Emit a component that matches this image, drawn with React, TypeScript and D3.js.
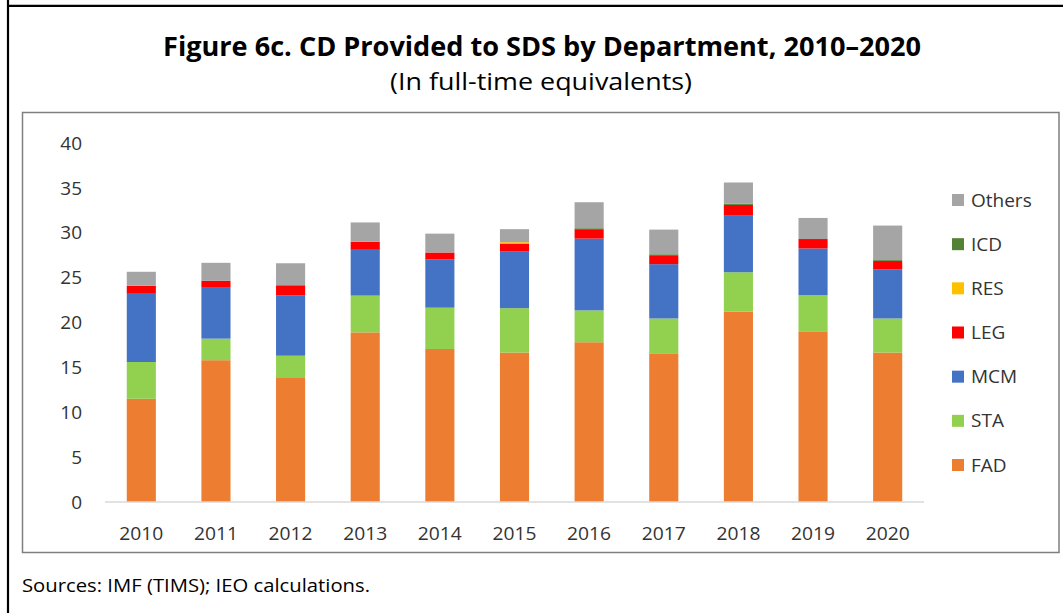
import React from "react";
import * as d3 from "d3";

const years = ["2010", "2011", "2012", "2013", "2014", "2015", "2016", "2017", "2018", "2019", "2020"];
const FAD = [11.5, 15.8, 13.9, 18.9, 17.05, 16.65, 17.8, 16.5, 21.2, 18.95, 16.65];
const STA = [4.1, 2.4, 2.4, 4.1, 4.6, 4.95, 3.55, 3.95, 4.4, 4.1, 3.8];
const MCM = [7.6, 5.75, 6.7, 5.1, 5.4, 6.35, 8.0, 6.05, 6.3, 5.2, 5.45];
const LEG = [0.9, 0.7, 1.15, 0.9, 0.75, 0.85, 1.05, 1.0, 1.2, 1.05, 0.95];
const RES = [0, 0, 0, 0, 0, 0.15, 0, 0, 0, 0, 0];
const ICD = [0, 0, 0, 0, 0, 0, 0.1, 0.1, 0.15, 0, 0.1];
const Others = [1.55, 2.0, 2.45, 2.15, 2.1, 1.45, 2.9, 2.75, 2.35, 2.35, 3.85];

const seriesNames = ["FAD", "STA", "MCM", "LEG", "RES", "ICD", "Others"];
const seriesValues = [FAD, STA, MCM, LEG, RES, ICD, Others];
const seriesColors = ["#ED7D31", "#92D050", "#4472C4", "#FF0000", "#FFC000", "#548235", "#A5A5A5"];
const yTicks = [0, 5, 10, 15, 20, 25, 30, 35, 40];

const title = "Figure 6c. CD Provided to SDS by Department, 2010\u20132020";
const subtitle = "(In full-time equivalents)";
const source = "Sources: IMF (TIMS); IEO calculations.";

export default function App() {
  const W = 1063, H = 613;
  const font = "'Open Sans', 'Noto Sans', sans-serif";
  const rows = years.map((y, i) => {
    const r: any = { year: y };
    seriesNames.forEach((s, k) => (r[s] = seriesValues[k][i]));
    return r;
  });
  const stacked = d3.stack().keys(seriesNames)(rows);
  const x = d3.scaleBand().domain(years).range([104, 925]).paddingInner(0.61).paddingOuter(0.305);
  const y = d3.scaleLinear().domain([0, 40]).range([502, 143]);
  const legendY = d3.scalePoint().domain([...seriesNames].reverse()).range([200, 465]);

  return (
    <svg width={W} height={H} style={{ position: "absolute", left: 0, top: 0, background: "#fff" }}>
      <rect x={0} y={0} width={W} height={H} fill="#fff" />
      <line x1={8} y1={0} x2={8} y2={H} stroke="#000" strokeWidth={2.2} />
      <line x1={7} y1={5.8} x2={W} y2={5.8} stroke="#000" strokeWidth={2.2} />
      <text x={542} y={56} textAnchor="middle" fontFamily={font} fontWeight={700} fontSize={26} fill="#000" textLength={758} lengthAdjust="spacingAndGlyphs">{title}</text>
      <text x={541} y={90} textAnchor="middle" fontFamily={font} fontSize={23} fill="#000" textLength={302} lengthAdjust="spacingAndGlyphs">{subtitle}</text>
      <rect x={22.5} y={112.5} width={1036.5} height={440} fill="none" stroke="#7F7F7F" strokeWidth={1.5} />
      {yTicks.map((t) => (
        <text key={t} x={82} y={y(t)} dy="0.35em" textAnchor="end" fontFamily={font} fontSize={19} fill="#333">{t}</text>
      ))}
      {stacked.map((layer, k) => (
        <g key={seriesNames[k]} fill={seriesColors[k]}>
          {layer.map((d: any, i: number) =>
            d[1] - d[0] > 0 ? (
              <rect key={i} x={x(years[i])} y={y(d[1])} width={x.bandwidth()} height={y(d[0]) - y(d[1])} />
            ) : null
          )}
        </g>
      ))}
      <line x1={105} x2={924} y1={502} y2={502} stroke="#D9D9D9" strokeWidth={1.5} />
      {years.map((yr) => (
        <text key={yr} x={(x(yr) as number) + x.bandwidth() / 2} y={533} dy="0.35em" textAnchor="middle" fontFamily={font} fontSize={19} fill="#333" textLength={44} lengthAdjust="spacingAndGlyphs">{yr}</text>
      ))}
      {[...seriesNames].reverse().map((s) => {
        const k = seriesNames.indexOf(s);
        const cy = legendY(s) as number;
        return (
          <g key={s}>
            <rect x={952} y={cy - 6} width={12} height={12} fill={seriesColors[k]} />
            <text x={971} y={cy} dy="0.35em" fontFamily={font} fontSize={19} fill="#333">{s}</text>
          </g>
        );
      })}
      <text x={22} y={586} dy="0.35em" fontFamily={font} fontSize={18} fill="#000" textLength={348} lengthAdjust="spacingAndGlyphs">{source}</text>
    </svg>
  );
}
